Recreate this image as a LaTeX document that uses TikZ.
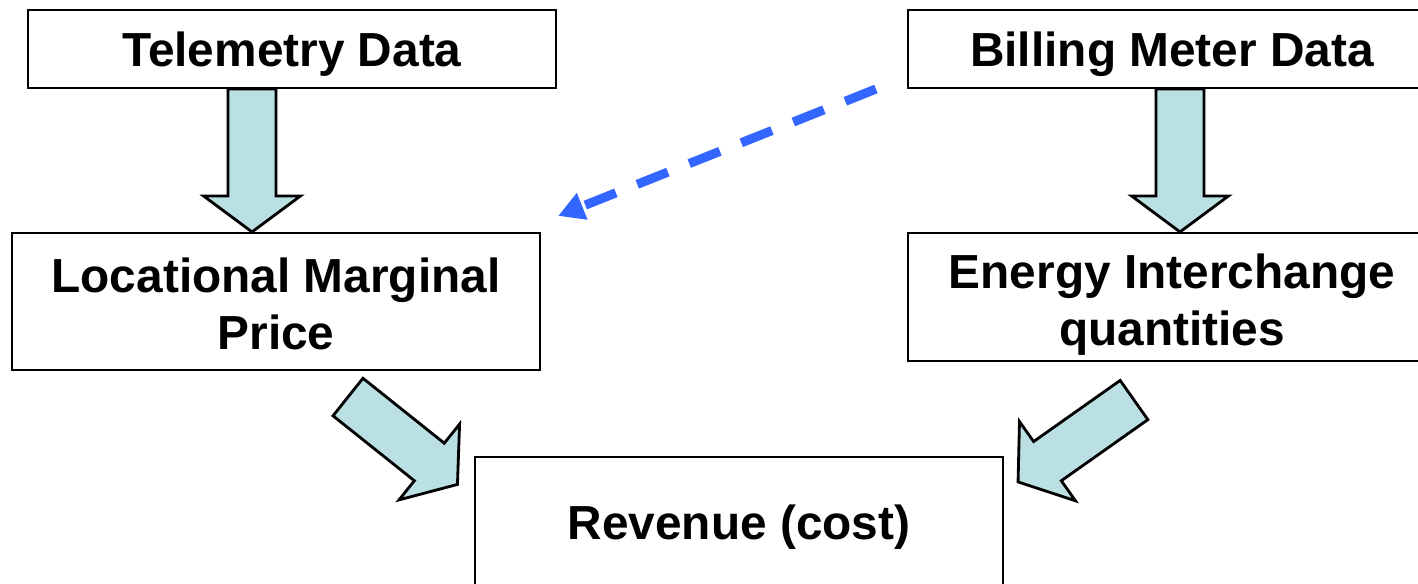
\documentclass[tikz,border=0pt]{standalone}
\usepackage{fontspec}
\setmainfont{Liberation Sans}
\usetikzlibrary{calc,arrows.meta}

\definecolor{arrowfill}{RGB}{187,224,227}
\definecolor{linkblue}{RGB}{51,102,255}

% fat arrow from #1 to #2 (shaft 0.48cm, head 0.97cm wide, 0.36cm long)
\newcommand{\blockarrow}[2]{%
  \coordinate (h) at ($(#2)!0.36cm!(#1)$);
  \draw[fatarrow] ($(#1)!0.24cm!90:(#2)$) -- ($(h)!0.24cm!90:(#2)$)
    -- ($(h)!0.485cm!90:(#2)$) -- (#2) -- ($(h)!0.485cm!-90:(#2)$)
    -- ($(h)!0.24cm!-90:(#2)$) -- ($(#1)!0.24cm!-90:(#2)$) -- cycle;}

\begin{document}
\begin{tikzpicture}[
  box/.style={draw, line width=0.6pt, minimum width=5.28cm, align=center,
    font=\fontsize{13.6}{16.3}\selectfont\bfseries},
  fatarrow/.style={draw, line width=0.8pt, fill=arrowfill, line join=miter},
  link/.style={draw=linkblue, line width=2.6pt, dash pattern=on 0.33cm off 0.23cm,
    -{Triangle[length=0.26cm,width=0.27cm]}}]
\useasboundingbox (0,0) rectangle (14.18,5.84);
\clip (0,0) rectangle (14.18,5.84);

\node[box, minimum height=0.78cm, text height=0.35cm, text depth=0pt] (tel) at (2.92,5.35) {Telemetry Data};
\node[box, minimum height=0.78cm, text height=0.35cm, text depth=0pt] (bill) at (11.72,5.35) {Billing Meter Data};
\node[box, minimum height=1.37cm, text height=0.97cm, text depth=0pt] (lmp) at (2.76,2.825) {Locational Marginal\\Price};
\node[box, minimum height=1.28cm, text height=0.98cm, text depth=0pt] (eic) at (11.72,2.87) {Energy Interchange\\quantities};
\node[box, minimum height=1.40cm, text height=0.26cm, text depth=0pt] (rev) at (7.39,0.57) {Revenue (cost)};

% down arrows
\coordinate (x1) at (2.52,0);
\coordinate (x2) at (11.80,0);
\coordinate (t1) at (tel.south -| x1);
\coordinate (l1) at (lmp.north -| x1);
\coordinate (b1) at (bill.south -| x2);
\coordinate (e1) at (eic.north -| x2);
\blockarrow{t1}{l1}
\blockarrow{b1}{e1}

% into revenue
\coordinate (l2) at ($(lmp.south)+(0.72,-0.26)$);
\coordinate (r1) at ($(rev.north west)+(-0.165,-0.285)$);
\coordinate (e2) at ($(eic.south)+(-0.38,-0.38)$);
\coordinate (r2) at ($(rev.north east)+(0.14,-0.26)$);
\blockarrow{l2}{r1}
\blockarrow{e2}{r2}

% billing data also feeds the price
\coordinate (s) at ($(bill.south west)+(-0.31,0)$);
\coordinate (p) at ($(lmp.north east)+(0.17,0.16)$);
\draw[link] (s) -- (p);
\end{tikzpicture}
\end{document}
